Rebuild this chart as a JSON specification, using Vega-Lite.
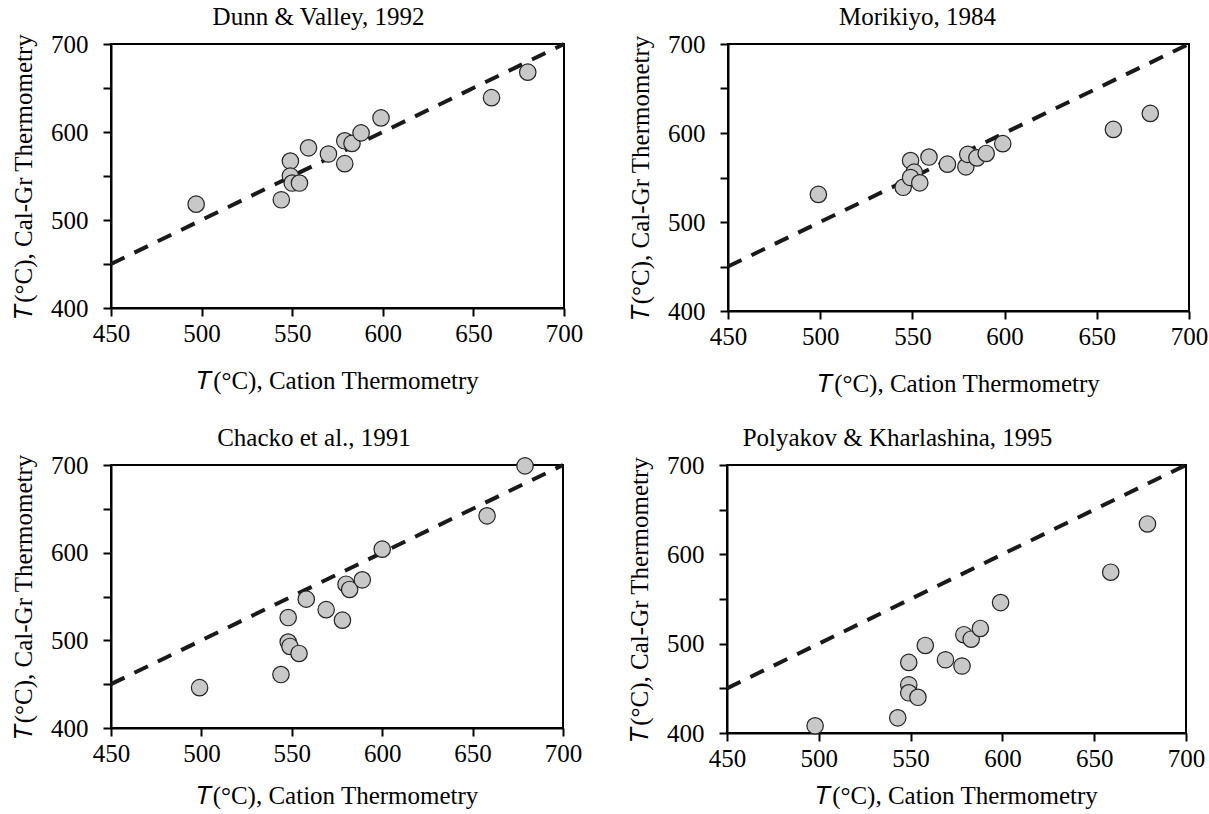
{
  "$schema": "https://vega.github.io/schema/vega-lite/v6.json",
  "padding": {"left": 10, "top": 4, "right": 2, "bottom": 0},
  "background": "white",
  "config": {
    "font": "Liberation Serif",
    "view": {"stroke": "black", "strokeWidth": 2},
    "axis": {
      "grid": false,
      "domainColor": "black",
      "domainWidth": 2,
      "tickColor": "black",
      "tickWidth": 2,
      "tickSize": 8,
      "labelFont": "Liberation Serif",
      "labelFontSize": 25,
      "labelColor": "black",
      "labelFlush": false,
      "labelOverlap": false,
      "titleFont": "Liberation Serif",
      "titleFontSize": 25,
      "titleFontWeight": "normal",
      "titleColor": "black"
    },
    "title": {"font": "Liberation Serif", "fontSize": 25, "fontWeight": "normal", "color": "black", "offset": 2}
  },
  "datasets": {
    "pts": [
      {"panel": 1, "cation": 497, "calgr": 518},
      {"panel": 1, "cation": 544, "calgr": 523},
      {"panel": 1, "cation": 549, "calgr": 567},
      {"panel": 1, "cation": 549, "calgr": 550},
      {"panel": 1, "cation": 550, "calgr": 542},
      {"panel": 1, "cation": 554, "calgr": 542},
      {"panel": 1, "cation": 559, "calgr": 582},
      {"panel": 1, "cation": 570, "calgr": 575},
      {"panel": 1, "cation": 579, "calgr": 590},
      {"panel": 1, "cation": 579, "calgr": 564},
      {"panel": 1, "cation": 583, "calgr": 587},
      {"panel": 1, "cation": 588, "calgr": 599},
      {"panel": 1, "cation": 599, "calgr": 616},
      {"panel": 1, "cation": 660, "calgr": 639},
      {"panel": 1, "cation": 680, "calgr": 668},
      {"panel": 2, "cation": 499, "calgr": 531},
      {"panel": 2, "cation": 545, "calgr": 539},
      {"panel": 2, "cation": 549, "calgr": 569},
      {"panel": 2, "cation": 551, "calgr": 556},
      {"panel": 2, "cation": 549, "calgr": 550},
      {"panel": 2, "cation": 554, "calgr": 544},
      {"panel": 2, "cation": 559, "calgr": 573},
      {"panel": 2, "cation": 569, "calgr": 565},
      {"panel": 2, "cation": 579, "calgr": 562},
      {"panel": 2, "cation": 580, "calgr": 576},
      {"panel": 2, "cation": 585, "calgr": 572},
      {"panel": 2, "cation": 590, "calgr": 577},
      {"panel": 2, "cation": 599, "calgr": 588},
      {"panel": 2, "cation": 659, "calgr": 604},
      {"panel": 2, "cation": 679, "calgr": 622},
      {"panel": 3, "cation": 499, "calgr": 446},
      {"panel": 3, "cation": 544, "calgr": 461},
      {"panel": 3, "cation": 548, "calgr": 526},
      {"panel": 3, "cation": 548, "calgr": 498},
      {"panel": 3, "cation": 549, "calgr": 493},
      {"panel": 3, "cation": 554, "calgr": 485},
      {"panel": 3, "cation": 558, "calgr": 547},
      {"panel": 3, "cation": 569, "calgr": 535},
      {"panel": 3, "cation": 578, "calgr": 523},
      {"panel": 3, "cation": 580, "calgr": 564},
      {"panel": 3, "cation": 582, "calgr": 558},
      {"panel": 3, "cation": 589, "calgr": 569},
      {"panel": 3, "cation": 600, "calgr": 604},
      {"panel": 3, "cation": 658, "calgr": 642},
      {"panel": 3, "cation": 679, "calgr": 699},
      {"panel": 4, "cation": 498, "calgr": 408},
      {"panel": 4, "cation": 543, "calgr": 417},
      {"panel": 4, "cation": 549, "calgr": 479},
      {"panel": 4, "cation": 549, "calgr": 454},
      {"panel": 4, "cation": 549, "calgr": 445},
      {"panel": 4, "cation": 554, "calgr": 440},
      {"panel": 4, "cation": 558, "calgr": 498},
      {"panel": 4, "cation": 569, "calgr": 482},
      {"panel": 4, "cation": 578, "calgr": 475},
      {"panel": 4, "cation": 579, "calgr": 510},
      {"panel": 4, "cation": 583, "calgr": 505},
      {"panel": 4, "cation": 588, "calgr": 517},
      {"panel": 4, "cation": 599, "calgr": 546},
      {"panel": 4, "cation": 659, "calgr": 580},
      {"panel": 4, "cation": 679, "calgr": 634}
    ],
    "oneToOne": [
      {"cation": 450, "calgr": 450},
      {"cation": 700, "calgr": 700}
    ]
  },
  "spacing": 28,
  "vconcat": [
    {
      "spacing": 43,
      "hconcat": [
        {
          "width": 453, "height": 264,
          "title": {"text": "Dunn & Valley, 1992", "dx": -19},
          "encoding": {
            "x": {"field": "cation", "type": "quantitative", "scale": {"domain": [450, 700], "nice": false, "zero": false}, "axis": {"values": [450, 500, 550, 600, 650, 700], "title": "𝑇(°C), Cation Thermometry", "labelPadding": 5, "titlePadding": 22}},
            "y": {"field": "calgr", "type": "quantitative", "scale": {"domain": [400, 700], "nice": false, "zero": false}, "axis": {"values": [400, 450, 500, 550, 600, 650, 700], "labelExpr": "datum.value % 100 == 0 ? datum.label : ''", "title": "𝑇(°C), Cal-Gr Thermometry", "labelPadding": 15, "titlePadding": 14}}
          },
          "layer": [
            {"data": {"name": "oneToOne"}, "mark": {"type": "line", "stroke": "#1a1a1a", "strokeWidth": 4, "strokeDash": [15, 11]}},
            {"data": {"name": "pts"}, "transform": [{"filter": "datum.panel == 1"}], "mark": {"type": "point", "shape": "circle", "filled": true, "fill": "#c8c8c8", "stroke": "#222222", "strokeWidth": 1.2, "size": 270, "opacity": 1}}
          ]
        },
        {
          "width": 461, "height": 267,
          "title": {"text": "Morikiyo, 1984", "dx": -41},
          "encoding": {
            "x": {"field": "cation", "type": "quantitative", "scale": {"domain": [450, 700], "nice": false, "zero": false}, "axis": {"values": [450, 500, 550, 600, 650, 700], "title": "𝑇(°C), Cation Thermometry", "labelPadding": 5, "titlePadding": 22}},
            "y": {"field": "calgr", "type": "quantitative", "scale": {"domain": [400, 700], "nice": false, "zero": false}, "axis": {"values": [400, 450, 500, 550, 600, 650, 700], "labelExpr": "datum.value % 100 == 0 ? datum.label : ''", "title": "𝑇(°C), Cal-Gr Thermometry", "labelPadding": 15, "titlePadding": 14}}
          },
          "layer": [
            {"data": {"name": "oneToOne"}, "mark": {"type": "line", "stroke": "#1a1a1a", "strokeWidth": 4, "strokeDash": [15, 11]}},
            {"data": {"name": "pts"}, "transform": [{"filter": "datum.panel == 2"}], "mark": {"type": "point", "shape": "circle", "filled": true, "fill": "#c8c8c8", "stroke": "#222222", "strokeWidth": 1.2, "size": 270, "opacity": 1}}
          ]
        }
      ]
    },
    {
      "spacing": 43,
      "hconcat": [
        {
          "width": 452, "height": 263,
          "title": {"text": "Chacko et al., 1991", "dx": -23},
          "encoding": {
            "x": {"field": "cation", "type": "quantitative", "scale": {"domain": [450, 700], "nice": false, "zero": false}, "axis": {"values": [450, 500, 550, 600, 650, 700], "title": "𝑇(°C), Cation Thermometry", "labelPadding": 5, "titlePadding": 17}},
            "y": {"field": "calgr", "type": "quantitative", "scale": {"domain": [400, 700], "nice": false, "zero": false}, "axis": {"values": [400, 450, 500, 550, 600, 650, 700], "labelExpr": "datum.value % 100 == 0 ? datum.label : ''", "title": "𝑇(°C), Cal-Gr Thermometry", "labelPadding": 15, "titlePadding": 14}}
          },
          "layer": [
            {"data": {"name": "oneToOne"}, "mark": {"type": "line", "stroke": "#1a1a1a", "strokeWidth": 4, "strokeDash": [15, 11]}},
            {"data": {"name": "pts"}, "transform": [{"filter": "datum.panel == 3"}], "mark": {"type": "point", "shape": "circle", "filled": true, "fill": "#c8c8c8", "stroke": "#222222", "strokeWidth": 1.2, "size": 270, "opacity": 1}}
          ]
        },
        {
          "width": 459, "height": 268,
          "title": {"text": "Polyakov & Kharlashina, 1995", "dx": -59},
          "encoding": {
            "x": {"field": "cation", "type": "quantitative", "scale": {"domain": [450, 700], "nice": false, "zero": false}, "axis": {"values": [450, 500, 550, 600, 650, 700], "title": "𝑇(°C), Cation Thermometry", "labelPadding": 5, "titlePadding": 12}},
            "y": {"field": "calgr", "type": "quantitative", "scale": {"domain": [400, 700], "nice": false, "zero": false}, "axis": {"values": [400, 450, 500, 550, 600, 650, 700], "labelExpr": "datum.value % 100 == 0 ? datum.label : ''", "title": "𝑇(°C), Cal-Gr Thermometry", "labelPadding": 15, "titlePadding": 14}}
          },
          "layer": [
            {"data": {"name": "oneToOne"}, "mark": {"type": "line", "stroke": "#1a1a1a", "strokeWidth": 4, "strokeDash": [15, 11]}},
            {"data": {"name": "pts"}, "transform": [{"filter": "datum.panel == 4"}], "mark": {"type": "point", "shape": "circle", "filled": true, "fill": "#c8c8c8", "stroke": "#222222", "strokeWidth": 1.2, "size": 270, "opacity": 1}}
          ]
        }
      ]
    }
  ]
}
